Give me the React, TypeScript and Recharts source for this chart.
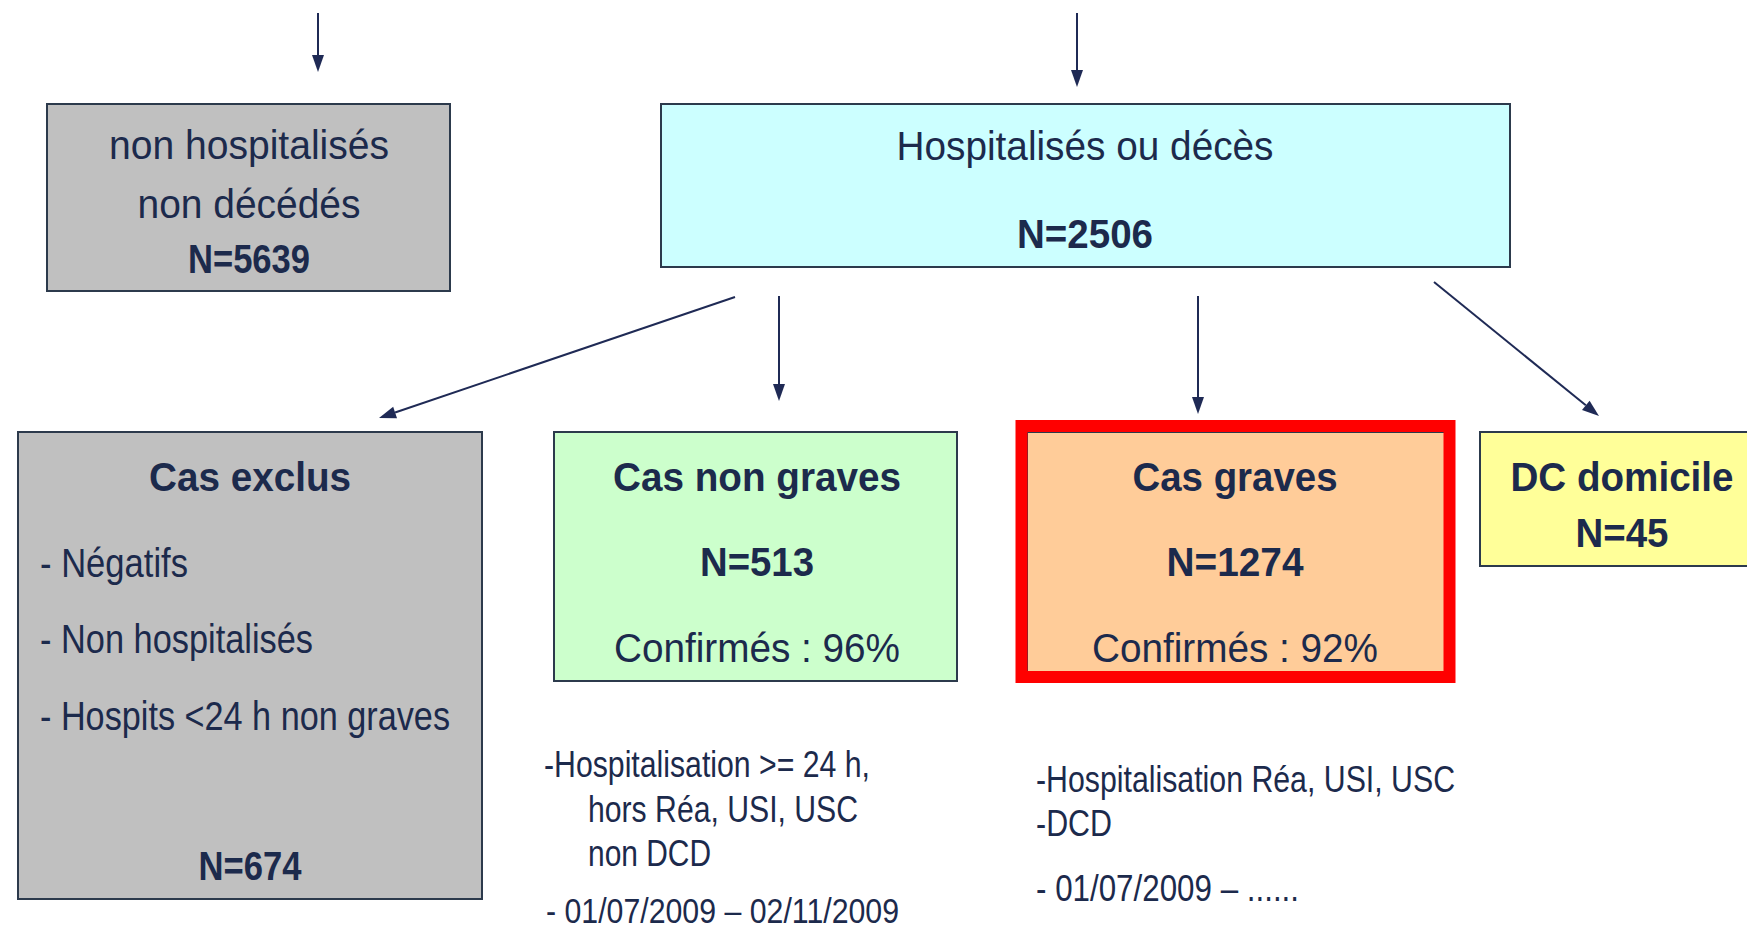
import React from 'react';
import { ComposedChart, XAxis, YAxis, ReferenceArea, ReferenceLine } from 'recharts';

const W = 1747;
const H = 931;

// flowchart content
const nodeTitles = [
  ['non hospitalisés', 'non décédés'],
  ['Hospitalisés ou décès'],
  ['Cas exclus'],
  ['Cas non graves'],
  ['Cas graves'],
  ['DC domicile'],
];
const nodeCounts = [5639, 2506, 674, 513, 1274, 45];
const confirmedPct = [null, null, null, 96, 92, null];
const excludedReasons = ['Négatifs', 'Non hospitalisés', 'Hospits <24 h non graves'];
const nonSevereNotes = ['-Hospitalisation >= 24 h,', 'hors Réa, USI, USC', 'non DCD', '- 01/07/2009 – 02/11/2009'];
const severeNotes = ['-Hospitalisation Réa, USI, USC', '-DCD', '- 01/07/2009 – ......'];

const INK = '#1c2a4c';
const EDGE = '#2c3a4c';
const FONT = "'Liberation Sans', Arial, Helvetica, sans-serif";

type Line = { text: string; dx: number; dy: number; w: number; bold?: boolean; size?: number; start?: boolean };
type Box = { x1: number; x2: number; y1: number; y2: number; fill: string; stroke: string; sw: number; lines: Line[] };

const n = (i: number) => `N=${nodeCounts[i]}`;
const conf = (i: number) => `Confirmés : ${confirmedPct[i]}%`;

const boxes: Box[] = [
  {
    x1: 47, x2: 450, y1: 104, y2: 291, fill: '#c0c0c0', stroke: EDGE, sw: 2,
    lines: [
      { text: nodeTitles[0][0], dx: 202, dy: 55, w: 280 },
      { text: nodeTitles[0][1], dx: 202, dy: 114, w: 223 },
      { text: n(0), dx: 202, dy: 169, w: 122, bold: true },
    ],
  },
  {
    x1: 661, x2: 1510, y1: 104, y2: 267, fill: '#ccffff', stroke: EDGE, sw: 2,
    lines: [
      { text: nodeTitles[1][0], dx: 424, dy: 56, w: 377 },
      { text: n(1), dx: 424, dy: 144, w: 136, bold: true },
    ],
  },
  {
    x1: 18, x2: 482, y1: 432, y2: 899, fill: '#c0c0c0', stroke: EDGE, sw: 2,
    lines: [
      { text: nodeTitles[2][0], dx: 232, dy: 59, w: 202, bold: true },
      { text: `- ${excludedReasons[0]}`, dx: 22, dy: 145, w: 148, start: true },
      { text: `- ${excludedReasons[1]}`, dx: 22, dy: 221, w: 273, start: true },
      { text: `- ${excludedReasons[2]}`, dx: 22, dy: 298, w: 410, start: true },
      { text: n(2), dx: 232, dy: 448, w: 103, bold: true },
    ],
  },
  {
    x1: 554, x2: 957, y1: 432, y2: 681, fill: '#ccffcc', stroke: EDGE, sw: 2,
    lines: [
      { text: nodeTitles[3][0], dx: 203, dy: 59, w: 288, bold: true },
      { text: n(3), dx: 203, dy: 144, w: 114, bold: true },
      { text: conf(3), dx: 203, dy: 230, w: 286 },
    ],
  },
  {
    x1: 1027, x2: 1445, y1: 432, y2: 672, fill: '#ffcc99', stroke: EDGE, sw: 2,
    lines: [
      { text: nodeTitles[4][0], dx: 208, dy: 59, w: 205, bold: true },
      { text: n(4), dx: 208, dy: 144, w: 137, bold: true },
      { text: conf(4), dx: 208, dy: 230, w: 286 },
    ],
  },
  {
    x1: 1480, x2: 1760, y1: 432, y2: 566, fill: '#ffff99', stroke: EDGE, sw: 2,
    lines: [
      { text: nodeTitles[5][0], dx: 142, dy: 59, w: 223, bold: true },
      { text: n(5), dx: 142, dy: 115, w: 93, bold: true },
    ],
  },
  // notes under the boxes (no frame)
  {
    x1: 544, x2: 910, y1: 740, y2: 931, fill: 'none', stroke: 'none', sw: 0,
    lines: [
      { text: nonSevereNotes[0], dx: 0, dy: 37, w: 326, start: true, size: 37 },
      { text: nonSevereNotes[1], dx: 44, dy: 82, w: 270, start: true, size: 37 },
      { text: nonSevereNotes[2], dx: 44, dy: 126, w: 123, start: true, size: 37 },
      { text: nonSevereNotes[3], dx: 2, dy: 183, w: 353, start: true, size: 35 },
    ],
  },
  {
    x1: 1036, x2: 1460, y1: 740, y2: 931, fill: 'none', stroke: 'none', sw: 0,
    lines: [
      { text: severeNotes[0], dx: 0, dy: 52, w: 419, start: true, size: 37 },
      { text: severeNotes[1], dx: 0, dy: 96, w: 76, start: true, size: 37 },
      { text: severeNotes[2], dx: 0, dy: 161, w: 263, start: true, size: 37 },
    ],
  },
];

// red highlight around "Cas graves"
const highlight = { x1: 1021.5, x2: 1449.5, y1: 426, y2: 677 };

// arrows: [from, to(tip)]
const arrows = [
  [{ x: 318, y: 13 }, { x: 318, y: 72 }],
  [{ x: 1077, y: 13 }, { x: 1077, y: 87 }],
  [{ x: 735, y: 297 }, { x: 379, y: 418 }],
  [{ x: 779, y: 296 }, { x: 779, y: 401 }],
  [{ x: 1198, y: 296 }, { x: 1198, y: 414 }],
  [{ x: 1434, y: 282 }, { x: 1599, y: 416 }],
];

const ARROW = '#1f2a55';

function Arrow(p: any) {
  const { x1, y1, x2, y2 } = p;
  const dx = x2 - x1;
  const dy = y2 - y1;
  const len = Math.sqrt(dx * dx + dy * dy) || 1;
  const ux = dx / len;
  const uy = dy / len;
  const hl = 17;
  const hw = 6;
  const bx = x2 - ux * hl;
  const by = y2 - uy * hl;
  return (
    <g>
      <line x1={x1} y1={y1} x2={bx} y2={by} stroke={ARROW} strokeWidth={2} />
      <polygon
        points={`${x2},${y2} ${bx - uy * hw},${by + ux * hw} ${bx + uy * hw},${by - ux * hw}`}
        fill={ARROW}
      />
    </g>
  );
}

function renderBox(b: Box) {
  return (p: any) => (
    <g>
      {b.fill !== 'none' && (
        <rect x={p.x} y={p.y} width={p.width} height={p.height} fill={b.fill} stroke={b.stroke} strokeWidth={b.sw} />
      )}
      {b.lines.map((l, i) => (
        <text
          key={i}
          x={p.x + l.dx}
          y={p.y + l.dy}
          textAnchor={l.start ? 'start' : 'middle'}
          fontFamily={FONT}
          fontSize={l.size ?? 40}
          fontWeight={l.bold ? 700 : 400}
          fill={INK}
          textLength={l.w}
          lengthAdjust="spacingAndGlyphs"
        >
          {l.text}
        </text>
      ))}
    </g>
  );
}

export default function App() {
  return (
    <div style={{ position: 'absolute', left: 0, top: 0, width: W, height: H, background: '#fff', overflow: 'hidden' }}>
      <ComposedChart width={W} height={H} margin={{ top: 0, right: 0, bottom: 0, left: 0 }}>
        <XAxis type="number" dataKey="x" domain={[0, W]} allowDataOverflow hide />
        <YAxis type="number" dataKey="y" domain={[0, H]} reversed allowDataOverflow hide />
        {boxes.map((b, i) => (
          <ReferenceArea
            key={`box-${i}`}
            x1={b.x1}
            x2={b.x2}
            y1={b.y1}
            y2={b.y2}
            ifOverflow="visible"
            shape={renderBox(b)}
          />
        ))}
        <ReferenceArea
          x1={highlight.x1}
          x2={highlight.x2}
          y1={highlight.y1}
          y2={highlight.y2}
          ifOverflow="visible"
          shape={(p: any) => (
            <rect x={p.x} y={p.y} width={p.width} height={p.height} fill="none" stroke="#ff0000" strokeWidth={12} />
          )}
        />
        {arrows.map((a, i) => (
          <ReferenceLine key={`arrow-${i}`} segment={a} ifOverflow="visible" shape={Arrow} />
        ))}
      </ComposedChart>
    </div>
  );
}
